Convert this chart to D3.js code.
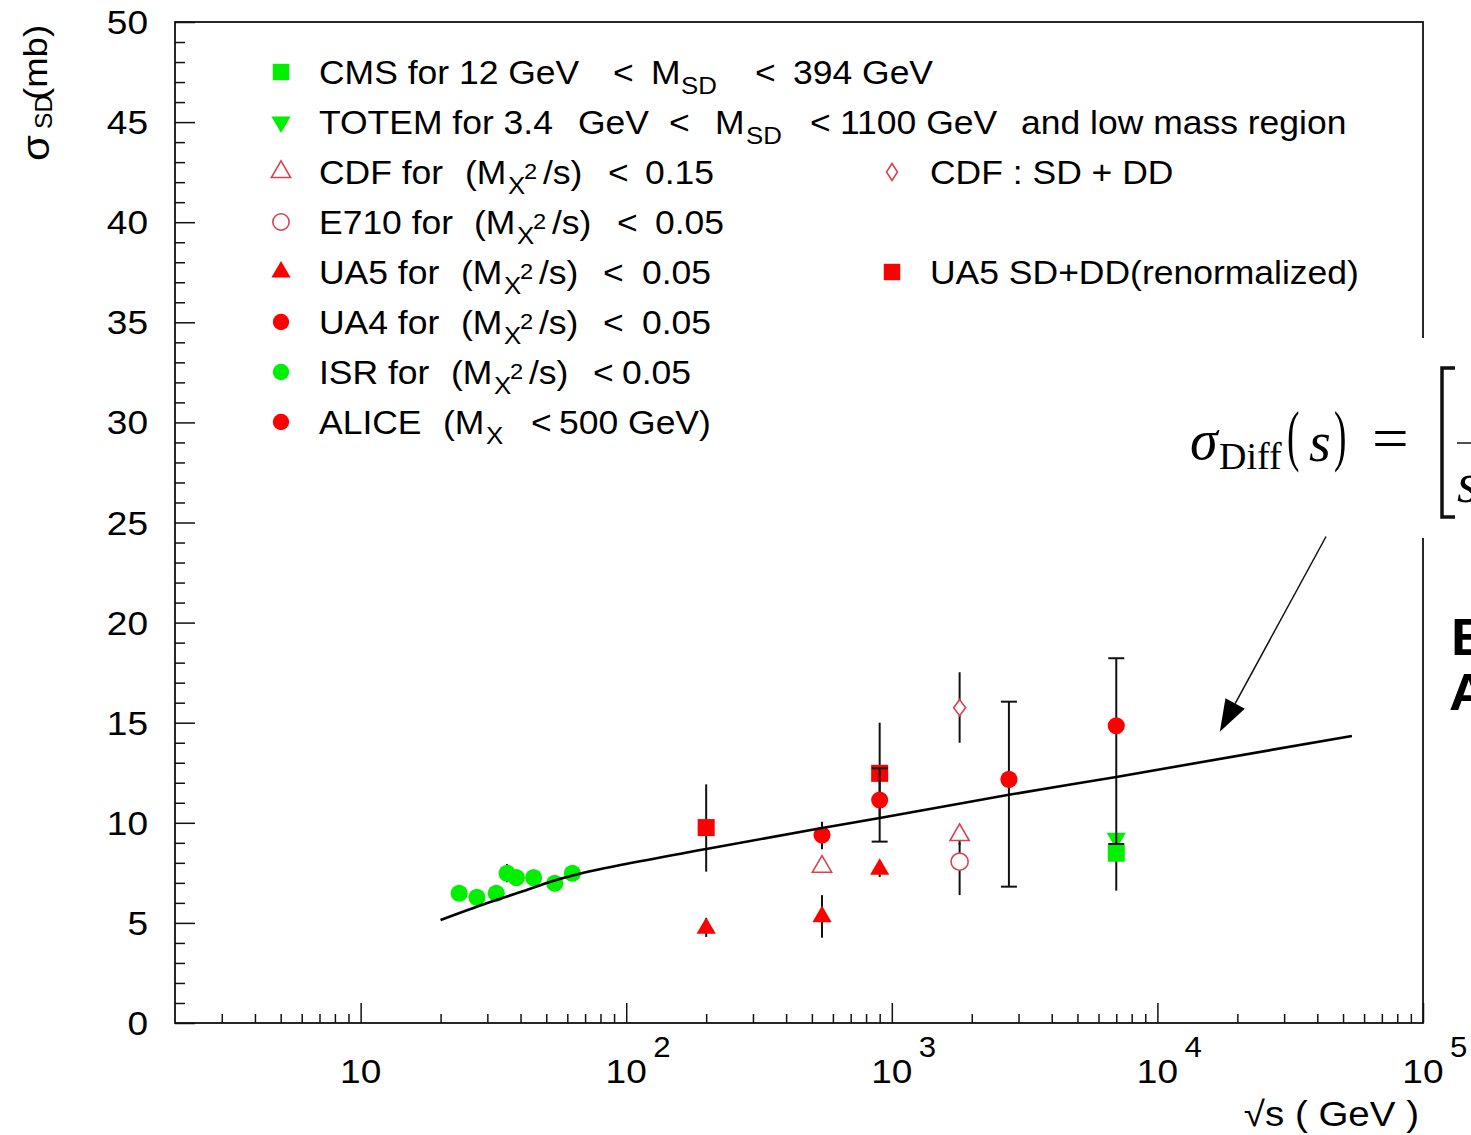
<!DOCTYPE html>
<html><head><meta charset="utf-8">
<script src="https://cdn.jsdelivr.net/npm/d3@7"></script>
<style>body{margin:0;background:#fff;overflow:hidden}svg{display:block}</style>
</head><body><svg id="c" width="1471" height="1135"></svg>
<script>
// ---------- data ----------
const curveX = [20, 30, 40, 53, 71, 95, 200, 546, 900, 2760, 7000, 54000];
const curveY = [5.14, 5.99, 6.54, 7.09, 7.54, 7.89, 8.69, 9.74, 10.24, 11.40, 12.29, 14.34];

const isrX = [23.5, 27.4, 32.4, 35.6, 38.6, 44.8, 53.8, 62.7];
const isrY = [6.48, 6.28, 6.48, 7.48, 7.26, 7.26, 6.98, 7.48];
const isrLo = [6.48, 6.28, 6.48, 7.03, 7.26, 7.26, 6.98, 7.48];
const isrHi = [6.48, 6.28, 6.48, 7.94, 7.26, 7.26, 6.98, 7.48];

const ua5X = [200, 546, 900];
const ua5Y = [4.73, 5.31, 7.68];
const ua5Lo = [4.30, 4.26, 7.29];
const ua5Hi = [5.25, 6.39, 8.00];

const ua5ddX = [200, 900];
const ua5ddY = [9.76, 12.47];
const ua5ddLo = [7.56, 10.30];
const ua5ddHi = [11.92, 15.00];

const ua4X = [546];
const ua4Y = [9.39];
const ua4Lo = [8.68];
const ua4Hi = [10.05];

const cdfX = [546, 1800];
const cdfY = [7.81, 9.39];
const cdfLo = [7.81, 8.90];
const cdfHi = [7.81, 9.84];

const e710X = [1800];
const e710Y = [8.06];
const e710Lo = [6.39];
const e710Hi = [9.00];

const cdfddX = [1800];
const cdfddY = [15.75];
const cdfddLo = [14.00];
const cdfddHi = [17.52];

const aliceX = [900, 2760, 7000];
const aliceY = [11.14, 12.17, 14.85];
const aliceLo = [9.06, 6.81, 8.94];
const aliceHi = [12.72, 16.05, 18.22];

const totemX = [7000];
const totemY = [9.22];

const cmsX = [7000];
const cmsY = [8.48];
const cmsLo = [6.61];
const cmsHi = [9.30];

const yTickValues = d3.range(0, 51, 5);
const xDecades = [10, 100, 1000, 10000, 100000];
const xTickLabels = ["10", "10", "10", "10", "10"];
const xTickExps = ["", "2", "3", "4", "5"];

// arrow annotation in data coordinates [sqrt(s), sigma]
const arrowFrom = [43150, 24.3];
const arrowTo = [17180, 14.55];

// ---------- layout ----------
const SX = 1.075;            // horizontal glyph stretch of the original picture
const FONT = "'Liberation Sans', Arial, Helvetica, sans-serif";
const SERIF = "'Liberation Serif', 'Times New Roman', serif";
const RED = "#ff0000", GREEN = "#00f000", OPEN = "#d8434f";

const svg = d3.select("#c");
const x = d3.scaleLog().domain([2, 1e5]).range([175, 1423]);
const y = d3.scaleLinear().domain([0, 50]).range([1023, 22]);

function stretch(sel, k) {
  sel.each(function () {
    const l = this.getComputedTextLength();
    if (l > 0) {
      this.setAttribute("textLength", l * (k || SX));
      this.setAttribute("lengthAdjust", "spacingAndGlyphs");
    }
  });
}
function txt(g, s, px, py, size, opts = {}) {
  const t = g.append("text").attr("x", px).attr("y", py)
    .attr("font-family", opts.family || FONT).attr("font-size", size)
    .attr("fill", "#000").text(s);
  if (opts.anchor) t.attr("text-anchor", opts.anchor);
  if (opts.style) t.attr("font-style", opts.style);
  if (opts.weight) t.attr("font-weight", opts.weight);
  stretch(t, opts.sx);
  return t;
}

// ---------- axes ----------
const xMinor = [];
for (let e = 0; e <= 4; e++) for (let m = 2; m <= 9; m++) {
  const v = m * Math.pow(10, e);
  if (v > 2 && v < 1e5 && !xDecades.includes(v)) xMinor.push(v);
}
const yMinor = d3.range(0, 51, 1).filter(v => v % 5 !== 0);

const gx = svg.append("g").attr("transform", "translate(0,1023)");
gx.call(d3.axisBottom(x).tickValues(xMinor).tickSize(-9).tickFormat(""));
gx.append("g").call(d3.axisBottom(x).tickValues(xDecades).tickSize(-20).tickFormat(""));
gx.selectAll(".domain").remove();
gx.selectAll("line").attr("stroke", "#111").attr("stroke-width", 1.5);

const gy = svg.append("g").attr("transform", "translate(175,0)");
gy.call(d3.axisLeft(y).tickValues(yMinor).tickSize(-10).tickFormat(""));
gy.append("g").call(d3.axisLeft(y).tickValues(yTickValues).tickSize(-20).tickFormat(""));
gy.selectAll(".domain").remove();
gy.selectAll("line").attr("stroke", "#111").attr("stroke-width", 1.5);

// frame
svg.append("rect").attr("x", x.range()[0]).attr("y", y.range()[1])
  .attr("width", x.range()[1] - x.range()[0]).attr("height", y.range()[0] - y.range()[1])
  .attr("fill", "none").attr("stroke", "#111").attr("stroke-width", 1.8);

// tick labels
const tl = svg.append("g");
yTickValues.forEach(v => txt(tl, String(v), 148, y(v) + 12, 34, { anchor: "end", sx: 1.09 }));
xDecades.forEach((v, i) => {
  txt(tl, xTickLabels[i], x(v), 1083, 34, { anchor: "middle", sx: 1.09 });
  if (xTickExps[i]) txt(tl, xTickExps[i], x(v) + 27, 1057, 29);
});

// axis titles
txt(svg, "√s ( GeV )", 1419, 1126, 35, { anchor: "end", sx: 1.1 });
const yt = svg.append("g").attr("transform", "translate(47,161) rotate(-90)");
txt(yt, "σ", 0, 2, 39);
txt(yt, "SD", 32, 5, 23);
txt(yt, "(mb)", 61, 0, 34);

// ---------- data marks ----------
const plot = svg.append("g");
const sym = (type, size) => d3.symbol().type(type).size(size)();
const diamondPath = (w, h) => `M0,${-h / 2}L${w / 2},0L0,${h / 2}L${-w / 2},0Z`;
const SHAPES = {
  circle: sym(d3.symbolCircle, 230),
  square: sym(d3.symbolSquare, 290),
  tri: sym(d3.symbolTriangle, 160),
  diamond: diamondPath(12, 16)
};

function series(xs, ys, los, his, shape, color, open, caps, rot) {
  const g = plot.append("g");
  xs.forEach((xv, i) => {
    if (los && his && his[i] > los[i]) {
      g.append("line").attr("x1", x(xv)).attr("x2", x(xv))
        .attr("y1", y(los[i])).attr("y2", y(his[i]))
        .attr("stroke", "#111").attr("stroke-width", 2);
      if (caps) [los[i], his[i]].forEach(v => g.append("line")
        .attr("x1", x(xv) - 8).attr("x2", x(xv) + 8).attr("y1", y(v)).attr("y2", y(v))
        .attr("stroke", "#111").attr("stroke-width", 2));
    }
  });
  xs.forEach((xv, i) => {
    g.append("path").attr("d", SHAPES[shape])
      .attr("transform", `translate(${x(xv)},${y(ys[i])})${rot ? " rotate(180)" : ""}`)
      .attr("fill", open ? "#fff" : color)
      .attr("stroke", open ? color : "none").attr("stroke-width", open ? 1.6 : 0);
  });
}
series(ua5ddX, ua5ddY, ua5ddLo, ua5ddHi, "square", RED, false, false);
series(cdfddX, cdfddY, cdfddLo, cdfddHi, "diamond", OPEN, true, false);
series(cmsX, cmsY, cmsLo, cmsHi, "square", GREEN, false, false);
series(totemX, totemY, null, null, "tri", GREEN, false, false, true);
series(e710X, e710Y, e710Lo, e710Hi, "circle", OPEN, true, false);
series(cdfX, cdfY, cdfLo, cdfHi, "tri", OPEN, true, false);
series(ua5X, ua5Y, ua5Lo, ua5Hi, "tri", RED, false, false);
series(ua4X, ua4Y, ua4Lo, ua4Hi, "circle", RED, false, false);
series(isrX, isrY, isrLo, isrHi, "circle", GREEN, false, false);
series(aliceX, aliceY, aliceLo, aliceHi, "circle", RED, false, true);

// model curve
plot.append("path")
  .attr("d", d3.line().x((d, i) => x(curveX[i])).y(d => y(d)).curve(d3.curveMonotoneX)(curveY))
  .attr("fill", "none").attr("stroke", "#000").attr("stroke-width", 2.6);

// ---------- legend ----------
const leg = svg.append("g");
const ROW0 = 72, DY = 50;
const legMarkers = [
  ["square", GREEN, false, false], ["tri", GREEN, false, true], ["tri", OPEN, true, false],
  ["circle", OPEN, true, false], ["tri", RED, false, false], ["circle", RED, false, false],
  ["circle", GREEN, false, false], ["circle", RED, false, false]
];
legMarkers.forEach((m, i) => {
  leg.append("path").attr("d", m[0] === "circle" ? sym(d3.symbolCircle, 210) : m[0] === "square" ? sym(d3.symbolSquare, 270) : sym(d3.symbolTriangle, 160))
    .attr("transform", `translate(281,${ROW0 + i * DY})${m[3] ? " rotate(180)" : ""}`)
    .attr("fill", m[2] ? "#fff" : m[1]).attr("stroke", m[2] ? m[1] : "none").attr("stroke-width", 1.6);
});
leg.append("path").attr("d", diamondPath(11, 17)).attr("transform", `translate(892,${ROW0 + 2 * DY})`)
  .attr("fill", "#fff").attr("stroke", OPEN).attr("stroke-width", 1.6);
leg.append("path").attr("d", sym(d3.symbolSquare, 270)).attr("transform", `translate(892,${ROW0 + 4 * DY})`)
  .attr("fill", RED);

// legend text segments: [text, x, kind]
const legRows = [
  [["CMS for 12 GeV", 319], ["<", 613], ["M", 651], ["SD", 681, "sub"], ["<", 755], ["394 GeV", 793]],
  [["TOTEM for 3.4", 319], ["GeV", 578], ["<", 669], ["M", 715], ["SD", 746, "sub"], ["<", 810], ["1100 GeV", 840], ["and low mass region", 1021]],
  [["CDF for", 319], ["(M", 465], ["X", 508, "sub"], ["2", 524, "sup"], ["/s)", 543], ["<", 608], ["0.15", 645], ["CDF : SD + DD", 930]],
  [["E710 for", 319], ["(M", 474], ["X", 517, "sub"], ["2", 533, "sup"], ["/s)", 552], ["<", 617], ["0.05", 655]],
  [["UA5 for", 319], ["(M", 461], ["X", 504, "sub"], ["2", 520, "sup"], ["/s)", 539], ["<", 603], ["0.05", 642], ["UA5 SD+DD(renormalized)", 930]],
  [["UA4 for", 319], ["(M", 461], ["X", 504, "sub"], ["2", 520, "sup"], ["/s)", 539], ["<", 603], ["0.05", 642]],
  [["ISR for", 319], ["(M", 451], ["X", 494, "sub"], ["2", 510, "sup"], ["/s)", 529], ["<", 593], ["0.05", 622]],
  [["ALICE", 319], ["(M", 443], ["X", 486, "sub"], ["<", 531], ["500 GeV)", 559]]
];
legRows.forEach((row, i) => {
  const base = ROW0 + i * DY + 12;
  row.forEach(([s, px, kind]) => {
    if (kind === "sub") txt(leg, s, px, base + 10, 24);
    else if (kind === "sup") txt(leg, s, px, base - 5, 22);
    else txt(leg, s, px, base, 33);
  });
});

// ---------- formula inset & annotation ----------
const ann = svg.append("g");
ann.append("rect").attr("x", 1165).attr("y", 338).attr("width", 306).attr("height", 200).attr("fill", "#fff");
txt(ann, "σ", 1190, 459, 56, { family: SERIF, style: "italic", sx: 1.0 });
txt(ann, "Diff", 1219, 469, 38, { family: SERIF, sx: 1.0 });
txt(ann, "(", 1287, 458, 68, { family: SERIF, sx: 0.55 });
txt(ann, "s", 1309, 461, 56, { family: SERIF, style: "italic", sx: 1.0 });
txt(ann, ")", 1334, 458, 68, { family: SERIF, sx: 0.55 });
txt(ann, "=", 1372, 459, 62, { family: SERIF, sx: 1.05 });
ann.append("path").attr("d", "M1455,368H1442V517H1455").attr("fill", "none").attr("stroke", "#111").attr("stroke-width", 3.5);
ann.append("line").attr("x1", 1457).attr("x2", 1471).attr("y1", 443).attr("y2", 443).attr("stroke", "#222").attr("stroke-width", 1.6);
txt(ann, "s", 1457, 502, 56, { family: SERIF, style: "italic", sx: 1.0 });
txt(ann, "E", 1451, 655, 52, { weight: "bold", sx: 1.05 });
txt(ann, "A", 1449, 710, 52, { weight: "bold", sx: 1.05 });

// arrow
const ax0 = x(arrowFrom[0]), ay0 = y(arrowFrom[1]), ax1 = x(arrowTo[0]), ay1 = y(arrowTo[1]);
const ang = Math.atan2(ay1 - ay0, ax1 - ax0), HL = 32, HW = 11;
const bx = ax1 - HL * Math.cos(ang), by = ay1 - HL * Math.sin(ang);
ann.append("line").attr("x1", ax0).attr("y1", ay0).attr("x2", bx).attr("y2", by)
  .attr("stroke", "#111").attr("stroke-width", 1.5);
ann.append("path").attr("d",
  `M${ax1},${ay1}L${bx + HW * Math.sin(ang)},${by - HW * Math.cos(ang)}L${bx - HW * Math.sin(ang)},${by + HW * Math.cos(ang)}Z`)
  .attr("fill", "#000");
</script></body></html>
